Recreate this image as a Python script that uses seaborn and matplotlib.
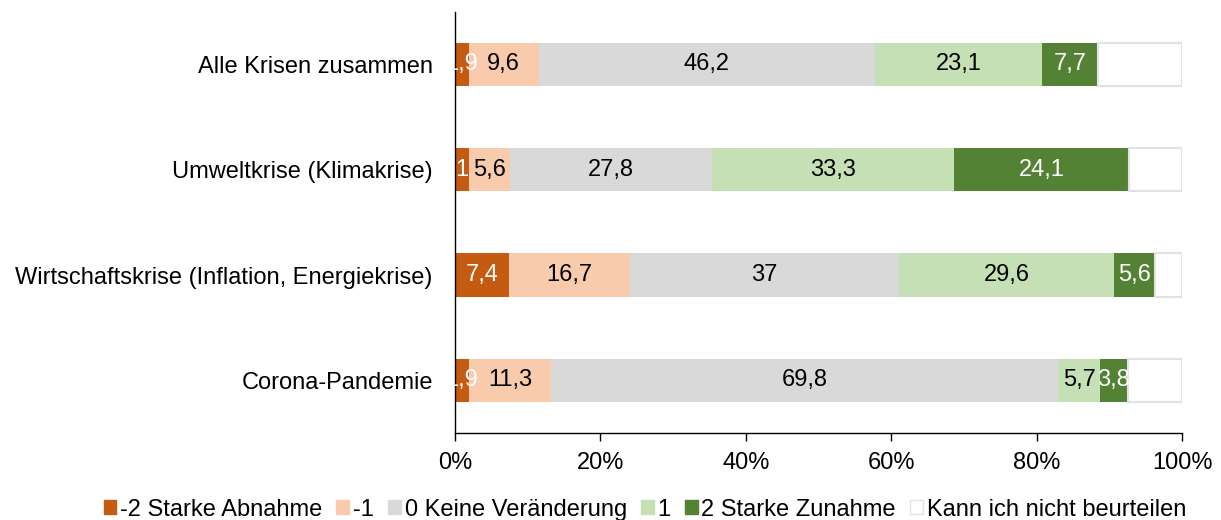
import matplotlib.pyplot as plt
import matplotlib.patches as mpatches
import numpy as np
import pandas as pd
import seaborn as sns

categories = ["Alle Krisen zusammen", "Umweltkrise (Klimakrise)",
              "Wirtschaftskrise (Inflation, Energiekrise)", "Corona-Pandemie"]
series = ["-2 Starke Abnahme", "-1", "0 Keine Veränderung", "1",
          "2 Starke Zunahme", "Kann ich nicht beurteilen"]
minus2 = [1.9, 1.9, 7.4, 1.9]
minus1 = [9.6, 5.6, 16.7, 11.3]
zero = [46.2, 27.8, 37.0, 69.8]
plus1 = [23.1, 33.3, 29.6, 5.7]
plus2 = [7.7, 24.1, 5.6, 3.8]
unknown = [11.5, 7.3, 3.7, 7.5]
# the -2 label of the Umweltkrise bar is cut to "1" in the original
minus2_labels = ["1,9", "1", "7,4", "1,9"]

colors = ["#C55A11", "#F8CBAD", "#D9D9D9", "#C5E0B4", "#548235", "#FFFFFF"]
text_colors = ["white", "black", "black", "black", "white", None]
FS = 17

sns.set_style("white")
plt.rcParams["font.family"] = ["Liberation Sans", "DejaVu Sans"]
plt.rcParams["text.color"] = "black"
plt.rcParams["xtick.color"] = "black"
plt.rcParams["ytick.color"] = "black"

values = np.array([minus2, minus1, zero, plus1, plus2, unknown])
lefts = values.cumsum(axis=0) - values

fig = plt.figure(figsize=(12.21, 5.2), dpi=100)
ax = fig.add_axes([0.3727, 0.1673, 0.5954, 0.81])

# one barplot per answer, then shift each bar to its stacked start
for i, s in enumerate(series):
    df = pd.DataFrame({"cat": categories, "val": values[i]})
    white = colors[i] == "#FFFFFF"
    sns.barplot(data=df, x="val", y="cat", orient="h", color=colors[i],
                width=0.41, edgecolor="#E2E2E2" if white else "none",
                linewidth=1.5 if white else 0, saturation=1, ax=ax)
    for patch, left in zip(ax.containers[-1], lefts[i]):
        patch.set_x(left)

for i in range(len(series) - 1):
    for j in range(len(categories)):
        if i == 0:
            lab = minus2_labels[j]
        else:
            lab = f"{values[i, j]:g}".replace(".", ",")
        ax.text(lefts[i, j] + values[i, j] / 2, j, lab, ha="center", va="center",
                fontsize=FS, color=text_colors[i])

ax.set_xlim(0, 100)
ax.set_ylim(3.5, -0.5)
ax.set_xticks(np.arange(0, 101, 20))
ax.set_xticklabels([f"{t}%" for t in range(0, 101, 20)])
ax.set_yticks(range(len(categories)))
ax.set_yticks(np.arange(-0.5, 4, 1), minor=True)
ax.tick_params(axis="y", which="major", length=0, labelsize=FS, pad=16)
ax.tick_params(axis="y", which="minor", length=6, width=1, direction="out")
ax.tick_params(axis="x", length=6, width=1, direction="out",
               labelsize=FS, pad=8, bottom=True)
ax.set_xlabel("")
ax.set_ylabel("")
sns.despine(ax=ax)
for s in ["left", "bottom"]:
    ax.spines[s].set_color("black")
    ax.spines[s].set_linewidth(1)

handles = [mpatches.Patch(facecolor=c, edgecolor="#E2E2E2" if c == "#FFFFFF" else c, label=s)
           for c, s in zip(colors, series)]
fig.legend(handles=handles, loc="center", bbox_to_anchor=(0.528, 0.02), ncol=6,
           frameon=False, fontsize=FS, handlelength=0.55, handleheight=0.55,
           handletextpad=0.15, columnspacing=0.6, borderaxespad=0)

fig.savefig("out.png", dpi=100)
